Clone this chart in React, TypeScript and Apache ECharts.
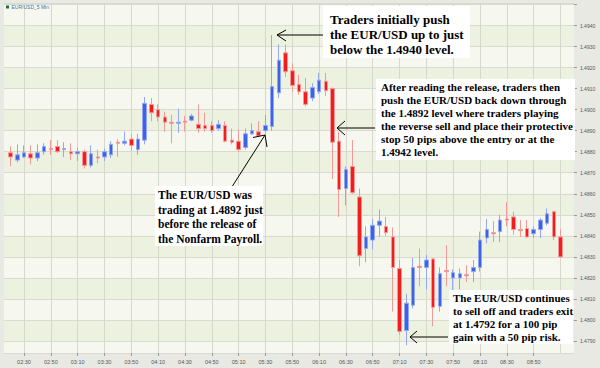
import React, { useEffect, useRef } from "react";
import * as echarts from "echarts";

const times: string[] = [
  "02:15", "02:20", "02:25", "02:30", "02:35", "02:40", "02:45", "02:50", "02:55",
  "03:00", "03:05", "03:10", "03:15", "03:20", "03:25", "03:30", "03:35", "03:40", "03:45", "03:50", "03:55",
  "04:00", "04:05", "04:10", "04:15", "04:20", "04:25", "04:30", "04:35", "04:40", "04:45", "04:50", "04:55",
  "05:00", "05:05", "05:10", "05:15", "05:20", "05:25", "05:30", "05:35", "05:40", "05:45", "05:50", "05:55",
  "06:00", "06:05", "06:10", "06:15", "06:20", "06:25", "06:30", "06:35", "06:40", "06:45", "06:50", "06:55",
  "07:00", "07:05", "07:10", "07:15", "07:20", "07:25", "07:30", "07:35", "07:40", "07:45", "07:50", "07:55",
  "08:00", "08:05", "08:10", "08:15", "08:20", "08:25", "08:30", "08:35", "08:40", "08:45", "08:50", "08:55",
  "09:00", "09:05", "09:10", "09:15", "09:20",
];

// labelled times on the axis
const tickLabels: string[] = [
  "02:30", "02:50", "03:10", "03:30", "03:50", "04:10", "04:30", "04:50", "05:10", "05:30",
  "05:50", "06:10", "06:30", "06:50", "07:10", "07:30", "07:50", "08:10", "08:30", "08:50",
];
const gridTimes: string[] = [...tickLabels, "09:10"];

// first candle is at 02:20
const firstCandleTime = "02:20";

const opens: number[] = [
  1.48795, 1.4876, 1.48775, 1.4879, 1.4877, 1.488, 1.48815, 1.48825, 1.4881, 1.488,
  1.4879, 1.488, 1.48735, 1.48775, 1.48775, 1.48785, 1.48845, 1.4884, 1.4886, 1.4881,
  1.48855, 1.49025, 1.49, 1.48965, 1.4894, 1.48935, 1.48945, 1.4895, 1.4893, 1.48925,
  1.48925, 1.4891, 1.48925, 1.48855, 1.4885, 1.4882, 1.48885, 1.48895, 1.489, 1.4892,
  1.4908, 1.4927, 1.49185, 1.4912, 1.49085, 1.49055, 1.49085, 1.49135, 1.491, 1.4885,
  1.48625, 1.4873, 1.48585, 1.4834, 1.4838, 1.4845, 1.48445, 1.48395, 1.48245, 1.4795,
  1.4807, 1.48255, 1.4825, 1.4829, 1.48065, 1.48235, 1.482, 1.482, 1.48215, 1.4823,
  1.4825, 1.4839, 1.48415, 1.4842, 1.4848, 1.4849, 1.4843, 1.48435, 1.4841, 1.4843,
  1.4846, 1.48515, 1.48395,
];
const closes: number[] = [
  1.48775, 1.48785, 1.48795, 1.4877, 1.48795, 1.48825, 1.4881, 1.488, 1.48815, 1.4879,
  1.488, 1.48735, 1.4879, 1.4877, 1.488, 1.48835, 1.4884, 1.4885, 1.4883, 1.4886,
  1.4903, 1.48985, 1.48965, 1.4894, 1.48935, 1.4894, 1.4894, 1.4897, 1.4891, 1.4891,
  1.489, 1.4893, 1.4885, 1.48845, 1.4881, 1.48885, 1.489, 1.48875, 1.48925, 1.4911,
  1.49235, 1.4918, 1.49115, 1.49085, 1.49025, 1.49105, 1.4914, 1.4909, 1.48845, 1.4862,
  1.48715, 1.48605, 1.48305, 1.48395, 1.4845, 1.4847, 1.48415, 1.4825, 1.47945, 1.4808,
  1.4825, 1.4825, 1.48285, 1.4806, 1.4822, 1.4823, 1.48225, 1.4822, 1.4821, 1.4825,
  1.4838, 1.4843, 1.4841, 1.48475, 1.48475, 1.4843, 1.48425, 1.48395, 1.4843, 1.48475,
  1.48505, 1.48395, 1.483,
];
const lows: number[] = [
  1.4873, 1.4875, 1.4877, 1.4874, 1.48755, 1.48785, 1.48785, 1.48795, 1.48775, 1.4876,
  1.48755, 1.4872, 1.48725, 1.48745, 1.48755, 1.4877, 1.48775, 1.4883, 1.48805, 1.48785,
  1.48835, 1.48945, 1.48945, 1.48895, 1.4884, 1.4889, 1.48895, 1.48945, 1.4889, 1.48895,
  1.4889, 1.489, 1.48845, 1.48835, 1.488, 1.4881, 1.4888, 1.4887, 1.4888, 1.489,
  1.49055, 1.49155, 1.49085, 1.4907, 1.49015, 1.4904, 1.49075, 1.49065, 1.4867, 1.4849,
  1.48545, 1.486, 1.48255, 1.48275, 1.48335, 1.48395, 1.484, 1.4804, 1.4793, 1.4788,
  1.48055, 1.4816, 1.48145, 1.4797, 1.4804, 1.4816, 1.48135, 1.48145, 1.4818, 1.4818,
  1.4823, 1.48365, 1.4837, 1.4837, 1.48445, 1.48405, 1.48395, 1.4839, 1.4839, 1.4839,
  1.4845, 1.4838, 1.48295,
];
const highs: number[] = [
  1.48825, 1.48835, 1.4883, 1.4883, 1.48835, 1.4884, 1.48855, 1.48855, 1.48845, 1.4884,
  1.4882, 1.4881, 1.4883, 1.4881, 1.48815, 1.4885, 1.4886, 1.48895, 1.48885, 1.48885,
  1.4906, 1.49055, 1.49025, 1.4899, 1.48975, 1.49005, 1.4897, 1.4898, 1.49025, 1.48985,
  1.48945, 1.4895, 1.48945, 1.4891, 1.48905, 1.4891, 1.48935, 1.48945, 1.48975, 1.49355,
  1.4931, 1.4931, 1.4922, 1.49165, 1.4915, 1.49125, 1.49175, 1.49175, 1.49105, 1.48895,
  1.4873, 1.48855, 1.48625, 1.48445, 1.4848, 1.48525, 1.4849, 1.4844, 1.48285, 1.48125,
  1.48295, 1.4834, 1.4831, 1.48295, 1.4825, 1.48355, 1.4824, 1.48245, 1.4826, 1.48285,
  1.4842, 1.4848, 1.4847, 1.485, 1.4856, 1.48515, 1.48475, 1.48475, 1.48445, 1.48485,
  1.4853, 1.4852, 1.4843,
];

const lastPrice = 1.4817;
const chartTitle = "EUR/USD_5 Min";

const noteTop = ["Traders initially push", "the EUR/USD up to just", "below the 1.4940 level."];
const noteRight = [
  "After reading the release, traders then",
  "push the EUR/USD back down through",
  "the 1.4892 level where traders playing",
  "the reverse sell and place their protective",
  "stop 50 pips above the entry or at the",
  "1.4942 level.",
];
const noteLeft = ["The EUR/USD was", "trading at 1.4892 just", "before the release of", "the Nonfarm Payroll."];
const noteBottom = [
  "The EUR/USD continues",
  "to sell off and traders exit",
  "at 1.4792 for a 100 pip",
  "gain with a 50 pip risk.",
];

const SERIF = '"Liberation Serif", "Times New Roman", serif';
const SANS = '"Liberation Sans", Arial, sans-serif';

function note(x: number, y: number, w: number, h: number, lines: string[], size: number, lh: number, tx: number, ty: number) {
  return [
    { type: "rect", shape: { x, y, width: w, height: h }, style: { fill: "#ffffff" }, z: 100 },
    {
      type: "text",
      x: tx,
      y: ty,
      z: 101,
      style: {
        text: lines.join("\n"),
        font: `bold ${size}px ${SERIF}`,
        lineHeight: lh,
        fill: "#000000",
        verticalAlign: "top",
        align: "left",
      },
    },
  ];
}

function arrow(x1: number, y1: number, x2: number, y2: number, w1: [number, number], w2: [number, number]) {
  return [
    { type: "line", shape: { x1, y1, x2, y2 }, style: { stroke: "#000", lineWidth: 1 }, z: 102 },
    { type: "polyline", shape: { points: [w1, [x2, y2], w2] }, style: { stroke: "#000", lineWidth: 1, fill: null }, z: 102 },
  ];
}

export default function App() {
  const ref = useRef<HTMLDivElement>(null);
  useEffect(() => {
    if (!ref.current) return;
    const chart = echarts.init(ref.current, undefined, { renderer: "svg" });
    const start = times.indexOf(firstCandleTime);
    const data = times.map((_, k) => {
      const j = k - start;
      return j >= 0 && j < opens.length ? [opens[j], closes[j], lows[j], highs[j]] : "-";
    });
    const isLabel = (index: number) => tickLabels.includes(times[index]);
    const isGrid = (index: number) => gridTimes.includes(times[index]);

    chart.setOption({
      animation: false,
      backgroundColor: "#e9e9e4",
      grid: { left: 3.88, top: 3, width: 570.06, height: 350 },
      xAxis: {
        type: "category",
        data: times,
        boundaryGap: false,
        axisLine: { show: false },
        axisTick: { show: true, interval: isLabel, length: 3, lineStyle: { color: "#9a9a9a" } },
        axisLabel: { interval: isLabel, fontSize: 5.5, color: "#555", margin: 6, fontFamily: SANS },
        splitLine: { show: true, interval: isGrid, lineStyle: { color: "#d6d8cc", width: 1 } },
      },
      yAxis: {
        type: "value",
        position: "right",
        min: 1.47843,
        max: 1.49507,
        minInterval: 0.001,
        maxInterval: 0.001,
        splitNumber: 16,
        axisLine: { show: false },
        axisTick: { show: true, length: 3, lineStyle: { color: "#9a9a9a" } },
        axisLabel: {
          formatter: (v: number) => (v > 1.4945 || v < 1.4789 ? "" : v.toFixed(4)),
          showMinLabel: false,
          showMaxLabel: false,
          fontSize: 5,
          color: "#555",
          margin: 6,
          fontFamily: SANS,
        },
        splitLine: { show: true, lineStyle: { color: "#d9dbd0", width: 1 } },
        splitArea: { show: true, areaStyle: { color: ["#f6f8ef", "#edf1df"] } },
      },
      series: [
        {
          type: "candlestick",
          data,
          barWidth: 4,
          itemStyle: {
            color: "#3d62e6",
            color0: "#f41c1c",
            borderColor: "#93a8f0",
            borderColor0: "#f19a9a",
            borderWidth: 1,
          },
          markLine: {
            silent: true,
            symbol: ["none", "none"],
            data: [{ yAxis: lastPrice }],
            lineStyle: { opacity: 0 },
            label: {
              show: true,
              position: "end",
              formatter: lastPrice.toFixed(4),
              color: "#ffffff",
              backgroundColor: "#1e8c5e",
              fontSize: 5,
              fontFamily: SANS,
              padding: [1, 5, 1, 5],
              distance: 1,
            },
          },
        },
      ],
      graphic: [
        { type: "rect", shape: { x: 6, y: 5.5, width: 3, height: 3 }, style: { fill: "#1f6f3a" }, z: 100 },
        { type: "text", x: 11.5, y: 7, z: 100, style: { text: chartTitle, font: `5px ${SANS}`, fill: "#4a6fb0", verticalAlign: "middle" } },
        ...note(323, 6, 147, 52, noteTop, 13, 15, 330, 11.5),
        ...note(376, 79, 199, 81, noteRight, 11, 13, 381, 80.5),
        ...note(155, 186, 108, 60, noteLeft, 11.5, 14.5, 158, 187.75),
        ...note(449, 290, 124, 54, noteBottom, 11, 13, 453, 291.5),
        ...arrow(323, 35, 277, 35, [286, 30], [286, 41]),
        ...arrow(375, 128, 337, 128, [345, 121], [345, 135]),
        ...arrow(232.5, 186, 265, 135, [253, 137.5], [267, 147]),
        ...arrow(448, 337, 410, 337, [417, 331], [417, 343]),
      ],
    });
    return () => chart.dispose();
  }, []);
  return <div ref={ref} style={{ position: "fixed", left: 0, top: 0, width: 600, height: 368 }} />;
}
